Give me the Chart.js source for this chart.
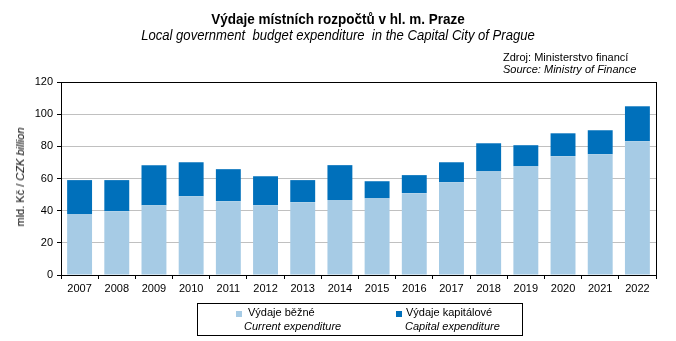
<!DOCTYPE html>
<html>
<head>
<meta charset="utf-8">
<script src="https://cdn.jsdelivr.net/npm/chart.js@4"></script>
<style>
  html, body { margin:0; padding:0; background:#fff; }
  #wrap { position:relative; width:676px; height:341px; overflow:hidden; font-family:"Liberation Sans", Arial, sans-serif; color:#000; }
  #c { position:absolute; left:0; top:0; }
  .t { position:absolute; white-space:nowrap; }
  #title { left:0; width:676px; top:10px; text-align:center; font-weight:bold; font-size:15px; transform:scaleX(0.9); }
  #sub { left:0; width:676px; top:27px; text-align:center; font-style:italic; font-size:14px; transform:scaleX(0.935); }
  #src1 { left:503px; top:51px; font-size:11px; }
  #src2 { left:503px; top:63px; font-size:11px; font-style:italic; }
  #ylab { left:20px; top:177px; font-size:11px; font-weight:normal; transform:translate(-50%,-50%) rotate(-90deg); }
  #legend { position:absolute; left:197px; top:303px; width:324px; height:31px; border:1px solid #000; }
  .sw { position:absolute; width:6px; height:6px; }
  .lt { position:absolute; font-size:11px; white-space:nowrap; }
</style>
</head>
<body>
<div id="wrap">
  <canvas id="c" width="676" height="341"></canvas>
  <div class="t" id="title">Výdaje místních rozpočtů v hl. m. Praze</div>
  <div class="t" id="sub">Local government&nbsp; budget expenditure&nbsp; in the Capital City of Prague</div>
  <div class="t" id="src1">Zdroj: Ministerstvo financí</div>
  <div class="t" id="src2">Source: Ministry of Finance</div>
  <div class="t" id="ylab">mld. Kč / <i>CZK billion</i></div>
  <div id="legend">
    <div class="sw" style="left:38px;top:7px;background:#a6cbe5"></div>
    <div class="lt" style="left:50px;top:2px">Výdaje běžné</div>
    <div class="lt" style="left:46px;top:16px;font-style:italic">Current expenditure</div>
    <div class="sw" style="left:198px;top:7px;background:#0070bb"></div>
    <div class="lt" style="left:208px;top:2px">Výdaje kapitálové</div>
    <div class="lt" style="left:207px;top:16px;font-style:italic">Capital expenditure</div>
  </div>
</div>
<script>
const years = ["2007","2008","2009","2010","2011","2012","2013","2014","2015","2016","2017","2018","2019","2020","2021","2022"];
const currentExp = [37.9, 39.7, 43.4, 49.0, 45.9, 43.4, 45.3, 46.6, 47.8, 50.9, 57.7, 64.6, 67.7, 73.9, 75.1, 83.2];
const capitalExp = [21.1, 19.3, 24.9, 21.1, 19.9, 18.0, 13.7, 21.7, 10.5, 11.2, 12.4, 17.3, 13.0, 14.2, 14.9, 21.7];
const yTicks = [0, 20, 40, 60, 80, 100, 120];

const boxPlugin = {
  id: 'box',
  afterDraw(chart) {
    const a = chart.chartArea, ctx = chart.ctx;
    ctx.save();
    ctx.strokeStyle = '#000';
    ctx.lineWidth = 1;
    ctx.strokeRect(Math.round(a.left) + 0.5, Math.round(a.top) + 0.5, Math.round(a.right - a.left), Math.round(a.bottom - a.top));
    ctx.restore();
  }
};

new Chart(document.getElementById('c'), {
  type: 'bar',
  data: {
    labels: years,
    datasets: [
      { label: 'Výdaje běžné', data: currentExp, backgroundColor: '#a6cbe5', categoryPercentage: 1, barPercentage: 0.67 },
      { label: 'Výdaje kapitálové', data: capitalExp, backgroundColor: '#0070bb', categoryPercentage: 1, barPercentage: 0.67 }
    ]
  },
  options: {
    responsive: false,
    animation: false,
    devicePixelRatio: 1,
    layout: { padding: { left: 0, top: 82, right: 20, bottom: 0 } },
    plugins: { legend: { display: false }, tooltip: { enabled: false }, title: { display: false } },
    scales: {
      x: {
        stacked: true,
        grid: { drawOnChartArea: false, offset: true, color: '#000', tickLength: 4 },
        border: { color: '#000' },
        ticks: { color: '#000', font: { family: 'Liberation Sans, Arial', size: 11 }, padding: 3, maxRotation: 0, autoSkip: false },
        afterFit(s) { s.height = 66; }
      },
      y: {
        stacked: true,
        min: 0, max: 120,
        afterBuildTicks(s) { s.ticks = yTicks.map(v => ({ value: v })); },
        grid: { color: '#c0c0c0', tickColor: '#000', tickLength: 4 },
        border: { color: '#000' },
        ticks: { color: '#000', font: { family: 'Liberation Sans, Arial', size: 11 }, padding: 4 },
        afterFit(s) { s.width = 61; }
      }
    }
  },
  plugins: [boxPlugin]
});
</script>
</body>
</html>
